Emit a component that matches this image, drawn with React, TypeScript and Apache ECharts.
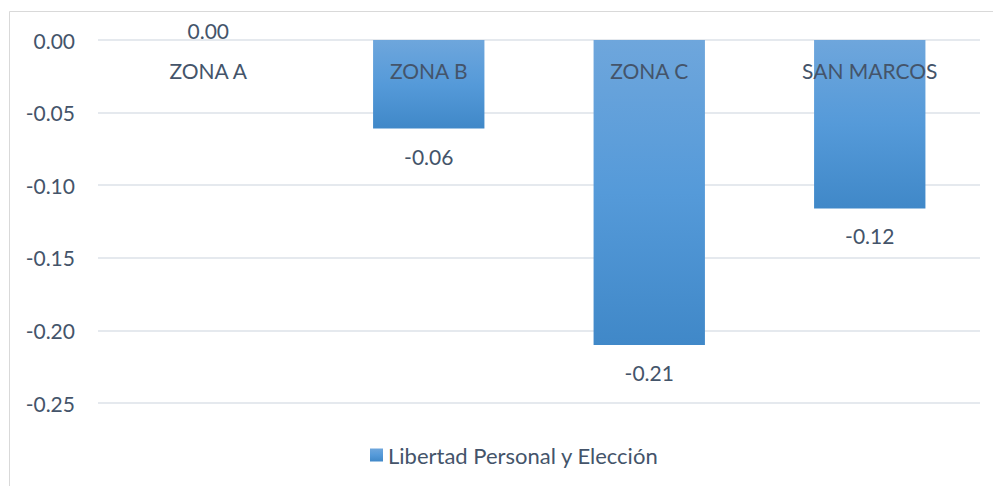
import React, { useEffect, useRef } from "react";
import * as echarts from "echarts";

const categories = ["ZONA A", "ZONA B", "ZONA C", "SAN MARCOS"];
const values = [0, -0.061, -0.21, -0.116];
const seriesName = "Libertad Personal y Elección";

const textColor = "#44546A";
const font = "Lato, 'Open Sans', sans-serif";

export default function App() {
  const ref = useRef<HTMLDivElement>(null);
  useEffect(() => {
    document.body.style.margin = "0";
    const chart = echarts.init(ref.current!, null, { renderer: "svg" });
    const gradient = new echarts.graphic.LinearGradient(0, 0, 0, 1, [
      { offset: 0, color: "#6ea6dc" },
      { offset: 0.5, color: "#559ad9" },
      { offset: 1, color: "#4088c8" },
    ]);
    chart.setOption({
      animation: false,
      backgroundColor: "#ffffff",
      graphic: [
        {
          type: "rect",
          shape: { x: 9.5, y: 11.5, width: 1000, height: 500 },
          style: { fill: "none", stroke: "#d9d9d9", lineWidth: 1 },
          silent: true,
        },
      ],
      grid: { left: 98, right: 13, top: 40, bottom: 83, containLabel: false },
      legend: {
        bottom: 15,
        left: 365,
        itemWidth: 13,
        itemHeight: 13,
        itemGap: 7,
        icon: "rect",
        textStyle: { color: textColor, fontSize: 22, fontFamily: font },
        data: [seriesName],
      },
      xAxis: {
        type: "category",
        data: categories,
        position: "top",
        axisLine: { show: false },
        axisTick: { show: false },
        axisLabel: {
          inside: true,
          margin: 20,
          color: textColor,
          fontSize: 21,
          fontFamily: font,
        },
        z: 10,
      },
      yAxis: {
        type: "value",
        min: -0.25,
        max: 0,
        interval: 0.05,
        axisLine: { show: false },
        axisTick: { show: false },
        splitLine: { lineStyle: { color: "#dde2e9", width: 1.5 } },
        axisLabel: {
          margin: 23,
          color: textColor,
          fontSize: 21,
          fontFamily: font,
          formatter: (v: number) => v.toFixed(2),
        },
      },
      series: [
        {
          name: seriesName,
          type: "bar",
          barWidth: "50.5%",
          itemStyle: { color: gradient },
          data: values.map((v) => ({
            value: v,
            label: {
              show: true,
              position: v === 0 ? "top" : "bottom",
              distance: v === 0 ? -1 : 17,
              color: textColor,
              fontSize: 21,
              fontFamily: font,
              formatter: (p: any) => Number(p.value).toFixed(2),
            },
          })),
        },
      ],
    });
    return () => chart.dispose();
  }, []);
  return <div ref={ref} style={{ width: 993, height: 486 }} />;
}
